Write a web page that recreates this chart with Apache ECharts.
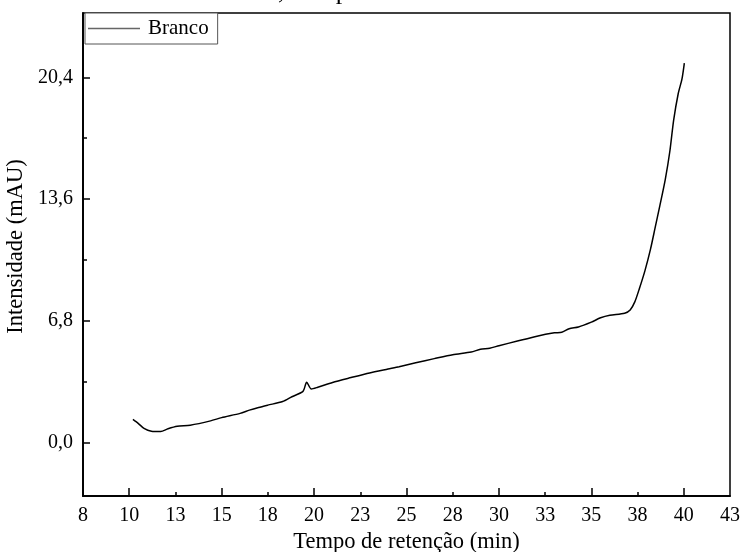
<!DOCTYPE html>
<html>
<head>
<meta charset="utf-8">
<script src="https://cdn.jsdelivr.net/npm/echarts@6/dist/echarts.min.js"></script>
<style>
  html, body { margin: 0; padding: 0; background: #fff; }
  #chart { width: 742px; height: 552px; }
</style>
</head>
<body>
<div id="chart"></div>
<script>
// Chromatogram of the blank run (retention time in minutes vs. intensity in mAU)
const seriesName = 'Branco';
const retentionTimes = [
  10.2, 10.5, 10.8, 11.2, 11.7, 12.1, 12.6, 13.3, 14.4, 15.0,
  16.0, 16.5, 17.0, 17.5, 18.3, 18.8, 19.4, 19.6, 19.85, 20.2,
  21.0, 22.0, 23.0, 24.0, 24.6, 25.5, 26.5, 27.5, 28.5, 29.0,
  29.5, 30.0, 31.0, 32.0, 33.0, 33.4, 33.8, 34.3, 35.0, 35.5,
  36.0, 36.8, 37.1, 37.35, 37.6, 37.9, 38.2, 38.45, 38.7, 39.0,
  39.25, 39.45, 39.7, 39.9, 40.03
];
const intensities = [
  1.28, 1.05, 0.78, 0.62, 0.60, 0.76, 0.90, 0.96, 1.20, 1.38,
  1.62, 1.80, 1.95, 2.08, 2.28, 2.55, 2.85, 3.36, 2.98, 3.08,
  3.35, 3.62, 3.88, 4.10, 4.23, 4.45, 4.68, 4.90, 5.05, 5.20,
  5.26, 5.40, 5.66, 5.92, 6.12, 6.15, 6.35, 6.45, 6.72, 6.96,
  7.10, 7.22, 7.40, 7.85, 8.6, 9.6, 10.8, 12.0, 13.2, 14.7,
  16.3, 18.0, 19.5, 20.3, 21.2
];
const yMajorTicks = [0, 6.8, 13.6, 20.4];
const yMinorTicks = [3.4, 10.2, 17.0];
const xMajorTicks = [10, 15, 20, 25, 30, 35, 40];
const xMinorTicks = [12.5, 17.5, 22.5, 27.5, 32.5, 37.5];
const chartTitle = 'Branco, comprimento de onda 254 nm';

const serif = 'Liberation Serif';
const points = retentionTimes.map((t, i) => [t, intensities[i]]);
const gridRect = { left: 83, right: 12, top: 13, bottom: 56, outerBoundsMode: 'none', containLabel: false };
const X_MIN = 7.5, X_MAX = 42.5, Y_MIN = -3, Y_MAX = 24;
const axisLineStyle = { color: '#000', width: 1.5 };

const chart = echarts.init(document.getElementById('chart'), null, { renderer: 'canvas' });
chart.setOption({
  animation: false,
  backgroundColor: '#fff',
  title: {
    text: chartTitle,
    left: 203,
    top: -21,
    padding: 0,
    textStyle: { fontFamily: serif, fontSize: 26, fontWeight: 'normal', color: '#000' }
  },
  legend: {
    data: [{ name: seriesName, icon: 'rect' }],
    left: 85,
    top: 13,
    orient: 'vertical',
    padding: [4, 9, 4, 3],
    borderColor: '#555',
    borderWidth: 1,
    borderRadius: 0,
    backgroundColor: '#fff',
    itemWidth: 52,
    itemHeight: 1.3,
    itemStyle: { color: '#666', borderWidth: 0 },
    textStyle: { fontFamily: serif, fontSize: 21, color: '#000', lineHeight: 23, padding: [0, 0, 0, 3] }
  },
  grid: [
    Object.assign({ show: true, borderColor: '#000', borderWidth: 1.5, backgroundColor: 'transparent' }, gridRect),
    Object.assign({ show: false }, gridRect)
  ],
  xAxis: [
    {
      gridIndex: 0,
      type: 'value',
      min: X_MIN, max: X_MAX, interval: 2.5,
      splitLine: { show: false },
      axisLine: { show: true, onZero: false, lineStyle: axisLineStyle },
      axisTick: { show: true, inside: true, length: 8, customValues: xMajorTicks, lineStyle: axisLineStyle },
      axisLabel: {
        showMinLabel: true, showMaxLabel: true,
        margin: 10,
        fontFamily: serif, fontSize: 20, color: '#000',
        formatter: v => String(Math.round(v))
      },
      name: 'Tempo de retenção (min)',
      nameLocation: 'middle',
      nameGap: 35,
      nameTextStyle: { fontFamily: serif, fontSize: 22.5, color: '#000' }
    },
    {
      // short minor ticks between the labelled majors
      gridIndex: 1,
      type: 'value',
      position: 'bottom',
      min: X_MIN, max: X_MAX,
      splitLine: { show: false },
      axisLine: { show: true, onZero: false, lineStyle: axisLineStyle },
      axisTick: { show: true, inside: true, length: 4, customValues: xMinorTicks, lineStyle: axisLineStyle },
      axisLabel: { show: false }
    }
  ],
  yAxis: [
    {
      gridIndex: 0,
      type: 'value',
      min: Y_MIN, max: Y_MAX,
      splitLine: { show: false },
      axisLine: { show: true, onZero: false, lineStyle: axisLineStyle },
      axisTick: { show: true, inside: true, length: 7, customValues: yMajorTicks, lineStyle: axisLineStyle },
      axisLabel: {
        customValues: yMajorTicks,
        margin: 10,
        fontFamily: serif, fontSize: 20, color: '#000',
        formatter: v => v.toFixed(1).replace('.', ',')
      },
      name: 'Intensidade (mAU)',
      nameLocation: 'middle',
      nameGap: 47,
      nameTextStyle: { fontFamily: serif, fontSize: 22.5, color: '#000', padding: [0, 0, 0, 16] }
    },
    {
      gridIndex: 1,
      type: 'value',
      position: 'left',
      min: Y_MIN, max: Y_MAX,
      splitLine: { show: false },
      axisLine: { show: true, onZero: false, lineStyle: axisLineStyle },
      axisTick: { show: true, inside: true, length: 4, customValues: yMinorTicks, lineStyle: axisLineStyle },
      axisLabel: { show: false }
    }
  ],
  series: [
    {
      name: seriesName,
      type: 'line',
      xAxisIndex: 0,
      yAxisIndex: 0,
      data: points,
      symbol: 'none',
      smooth: 0.25,
      lineStyle: { color: '#000', width: 1.5 },
      itemStyle: { color: '#000' }
    }
  ]
});
</script>
</body>
</html>
